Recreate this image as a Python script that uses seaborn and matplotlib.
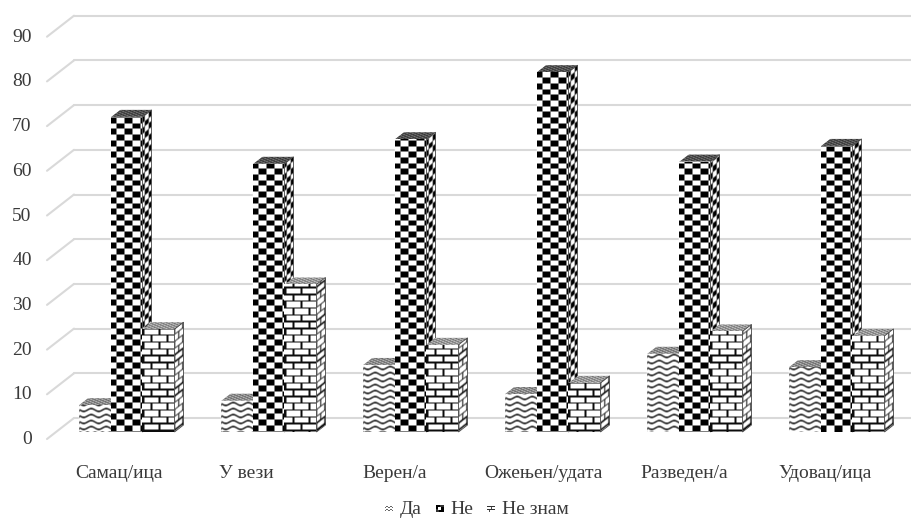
import numpy as np
import pandas as pd
import matplotlib
matplotlib.use('Agg')
import matplotlib.pyplot as plt
import seaborn as sns
from matplotlib.patches import Patch, Polygon
from matplotlib.path import Path
from matplotlib.transforms import Affine2D, IdentityTransform, ScaledTranslation

statuses = ['Самац/ица', 'У вези', 'Верен/а', 'Ожењен/удата', 'Разведен/а', 'Удовац/ица']
answers = ['Да', 'Не', 'Не знам']
da_values = [6, 7, 15, 8.5, 17.5, 14.5]
ne_values = [70.5, 60, 65.5, 80.5, 60.5, 64]
ne_znam_values = [23, 33, 19.5, 11, 22.5, 21.5]
y_ticks = list(range(0, 100, 10))

# label centres in the picture sit a bit left of the bar groups
label_shift = [-8, -22, -16, -9, -10, -11]

TEXT = '#3a3a3a'
GRID = '#d9d9d9'
W, H = 912, 518
PX_PER_UNIT = 4.47
DEPTH_X, DEPTH_Y = 9, 7


def soften(tile):
    # the source picture is a soft scan, so no edge should be hard
    return (tile + np.roll(tile, 1, 0) + np.roll(tile, 1, 1) + np.roll(np.roll(tile, 1, 0), 1, 1)) / 4


def checker_tile(w, h):
    yy, xx = np.mgrid[0:h, 0:w]
    return soften((((xx + 3) // 8 + (yy / 5.7).astype(int)) % 2).astype(float))


def brick_tile(w, h):
    yy, xx = np.mgrid[0:h, 0:w]
    row = (yy / 6.8).astype(int)
    line = (yy % 6.8) < 1.3
    joint = ((xx + 8 * (row % 2)) % 16) < 1.3
    return soften(1.0 - (line | joint).astype(float) * 0.95)


def wave_tile(w, h):
    yy, xx = np.mgrid[0:h, 0:w]
    wave = 1.4 * np.sin(2 * np.pi * xx / 15)
    dist = np.abs(((yy + wave) % 6.0) - 3.0)
    return soften(np.clip((dist - 0.3) / 0.9, 0, 1))


def top_tile(w, h, base, amp):
    yy, xx = np.mgrid[0:h, 0:w]
    return base + amp * np.sin(xx * 1.7) * np.sin(yy * 2.3 + xx * 0.6)


def paint(ax, tile, matrix, verts):
    # paints a texture through an affine map in pixels, clipped to the face
    h, w = tile.shape
    im = ax.imshow(tile, cmap='gray', vmin=0, vmax=1, aspect='auto', origin='lower',
                   extent=(0, w, 0, h), interpolation='bilinear',
                   transform=Affine2D(matrix), zorder=3)
    im.set_clip_path(Path(list(verts) + [verts[0]]), IdentityTransform())
    return im


sns.set_theme(style='white')
plt.rcParams['font.family'] = ['Liberation Serif', 'DejaVu Serif']

df = pd.DataFrame({
    'status': statuses * 3,
    'answer': [a for a in answers for _ in statuses],
    'value': da_values + ne_values + ne_znam_values,
})

fig = plt.figure(figsize=(W / 100, H / 100), dpi=100)
left, right, top_px, bottom_px = 47, 912, 15, 439
ax = fig.add_axes([left / W, 1 - bottom_px / H, (right - left) / W, (bottom_px - top_px) / H])
sns.barplot(data=df, x='status', y='value', hue='answer', hue_order=answers,
            palette=['white'] * 3, width=0.676, gap=0, saturation=1,
            errorbar=None, legend=False, ax=ax, zorder=2)

x_per_px = 1 / 142
ax.set_xlim((left - 126.5) * x_per_px, (right - 126.5) * x_per_px)
ax.set_ylim((432 - bottom_px) / PX_PER_UNIT, (432 - top_px) / PX_PER_UNIT)
ax.autoscale(False)
sns.despine(ax=ax, left=True, bottom=True, top=True, right=True)
ax.set_xlabel('')
ax.set_ylabel('')

# back wall and floor lines
front = -7 / PX_PER_UNIT
back = 14 / PX_PER_UNIT
wall = 27 / (right - left)
trans = ax.get_yaxis_transform()
for v in y_ticks:
    ax.plot([0, wall], [v + front, v + back], color=GRID, lw=1.5, transform=trans,
            zorder=1, clip_on=False)
    ax.plot([wall, 1], [v + back, v + back], color=GRID, lw=1.5, transform=trans,
            zorder=1, clip_on=False)

ax.set_yticks(y_ticks)
ax.tick_params(axis='y', length=0, pad=11, labelsize=14, labelcolor=TEXT)
ax.tick_params(axis='x', length=0, pad=19, labelsize=14, labelcolor=TEXT)
for lab in ax.get_yticklabels():
    lab.set_transform(lab.get_transform() + ScaledTranslation(0, -4 / 72, fig.dpi_scale_trans))
for lab, shift in zip(ax.get_xticklabels(), label_shift):
    lab.set_transform(lab.get_transform() + ScaledTranslation(shift / 100, 0, fig.dpi_scale_trans))

fronts = [wave_tile, checker_tile, brick_tile]
top_style = [(0.55, 0.3), (0.32, 0.25), (0.6, 0.3)]
fig.canvas.draw()

for c, (container, make_tile) in enumerate(zip(ax.containers, fronts)):
    for bar in container:
        (x0, y0), (x1, y1) = ax.transData.transform([(bar.get_x(), 0),
                                                     (bar.get_x() + bar.get_width(), bar.get_height())])
        w = int(x1 - x0) + 2
        h = int(y1 - y0) + 2
        # front face
        face = [(x0, y0), (x1, y0), (x1, y1), (x0, y1)]
        paint(ax, make_tile(w, h), [[1, 0, x0], [0, 1, y0], [0, 0, 1]], face)
        # side face, same texture squeezed and sheared
        side = [(x1, y0), (x1 + DEPTH_X, y0 + DEPTH_Y),
                (x1 + DEPTH_X, y1 + DEPTH_Y), (x1, y1)]
        scale = 0.5
        paint(ax, make_tile(int(DEPTH_X / scale) + 2, h + DEPTH_Y + 2),
              [[scale, 0, x1], [scale * DEPTH_Y / DEPTH_X, 1, y0], [0, 0, 1]], side)
        # top face
        lid = [(x0, y1), (x1, y1), (x1 + DEPTH_X, y1 + DEPTH_Y), (x0 + DEPTH_X, y1 + DEPTH_Y)]
        base, amp = top_style[c]
        paint(ax, top_tile(w + DEPTH_X, DEPTH_Y + 2, base, amp),
              [[1, DEPTH_X / DEPTH_Y, x0], [0, 1, y1], [0, 0, 1]], lid)
        if c > 0:
            ax.add_patch(Polygon(side, closed=True, fill=False, edgecolor='#444444', lw=0.6,
                                 transform=IdentityTransform(), zorder=3))

handles = [Patch(facecolor='none', edgecolor='none', label=a) for a in answers]
leg = fig.legend(handles=handles, ncol=3, loc='center', bbox_to_anchor=(477 / W, 1 - 510 / H),
                 frameon=False, fontsize=14, labelcolor=TEXT, handlelength=0.41, handleheight=0.45,
                 handletextpad=0.31, columnspacing=0.77, borderpad=0)
fig.canvas.draw()

# little legend keys, drawn as two strokes or a small checker as in the source
key_wave = np.array([[1, 1, 1, 1, 1, 1, 1, 1],
                     [1, .4, .4, 1, 1, .4, .4, 1],
                     [.4, 1, 1, .4, .4, 1, 1, .4],
                     [1, 1, 1, 1, 1, 1, 1, 1],
                     [1, .4, .4, 1, 1, .4, .4, 1],
                     [.4, 1, 1, .4, .4, 1, 1, .4],
                     [1, 1, 1, 1, 1, 1, 1, 1],
                     [1, 1, 1, 1, 1, 1, 1, 1]])
key_check = np.array([[0, 0, 0, 0, .2, .2, .2, .2],
                      [0, 0, 0, 0, .2, .2, .2, .2],
                      [0, 0, 1, 1, 1, 0, 0, 0],
                      [0, 0, 1, 1, 1, 0, 0, 0],
                      [.2, .2, 1, 1, 1, 0, 0, 0],
                      [.2, .2, .2, 0, 0, 0, 0, 0],
                      [.2, .2, .2, 0, 0, 0, 0, 0],
                      [1, 1, 1, 1, 1, 1, 1, 1]])
key_brick = np.array([[1, 1, 1, 1, 1, 1, 1, 1],
                      [.2, .2, .2, .2, .2, .2, .2, .2],
                      [1, 1, 1, 1, .3, 1, 1, 1],
                      [1, 1, 1, 1, .3, 1, 1, 1],
                      [.2, .2, .2, .2, .2, .2, .2, .2],
                      [1, 1, .3, 1, 1, 1, 1, 1],
                      [1, 1, .3, 1, 1, 1, 1, 1],
                      [1, 1, 1, 1, 1, 1, 1, 1]])
for handle, tile in zip(leg.legend_handles, [key_wave, key_check, key_brick]):
    box = handle.get_window_extent()
    fig.figimage(tile, int(box.x0), int(box.y0), cmap='gray', vmin=0, vmax=1, origin='upper', zorder=6)

fig.savefig('out.png', dpi=100)
